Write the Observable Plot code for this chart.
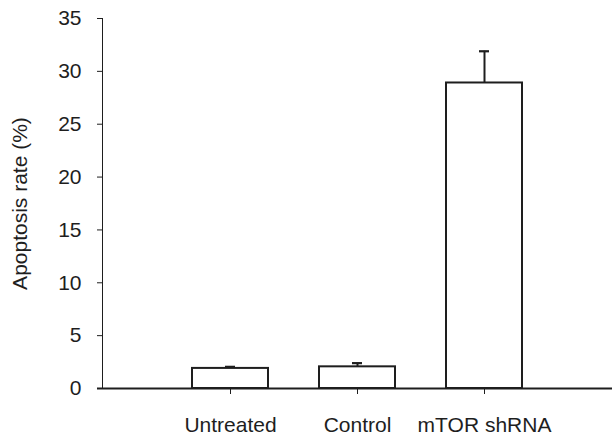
<!DOCTYPE html>
<html><head><meta charset="utf-8">
<script src="https://cdn.jsdelivr.net/npm/d3@7"></script>
<script src="https://cdn.jsdelivr.net/npm/@observablehq/plot@0.6"></script>
<style>body{margin:0;background:#fff;}</style>
</head><body><div id="chart"></div>
<script>
const categories = ["Untreated", "Control", "mTOR shRNA"];
const rates = [1.9, 2.05, 28.9];
const errors = [0.15, 0.35, 3.0];
const yTicks = [0, 5, 10, 15, 20, 25, 30, 35];
const yLabel = "Apoptosis rate (%)";

const data = categories.map((c, i) => ({cat: c, value: rates[i], top: rates[i] + errors[i]}));
const ink = "#1e1e1e";

const chart = Plot.plot({
  width: 612, height: 436,
  marginLeft: 102, marginRight: 0, marginTop: 18, marginBottom: 48,
  style: {fontFamily: "'Liberation Sans', Arial, sans-serif", fontSize: "21px", color: ink, background: "#fff"},
  x: {domain: categories, paddingInner: 0.4, paddingOuter: 0.7, tickSize: 6, tickPadding: 23, label: null},
  y: {domain: [0, 35], ticks: yTicks, tickSize: 5, tickPadding: 16, line: true,
      label: yLabel, labelAnchor: "center", labelOffset: 90, labelArrow: false},
  marks: [
    Plot.barY(data, {x: "cat", y: "value", fill: "white", stroke: ink, strokeWidth: 2}),
    Plot.ruleX(data, {x: "cat", y1: "value", y2: "top", stroke: ink, strokeWidth: 2}),
    Plot.tickY(data, {x: "cat", y: "top", stroke: ink, strokeWidth: 2.2, insetLeft: 33, insetRight: 33}),
    Plot.ruleY([0], {stroke: ink, strokeWidth: 2, insetLeft: -5})
  ]
});
document.getElementById("chart").append(chart);
</script>
</body></html>
